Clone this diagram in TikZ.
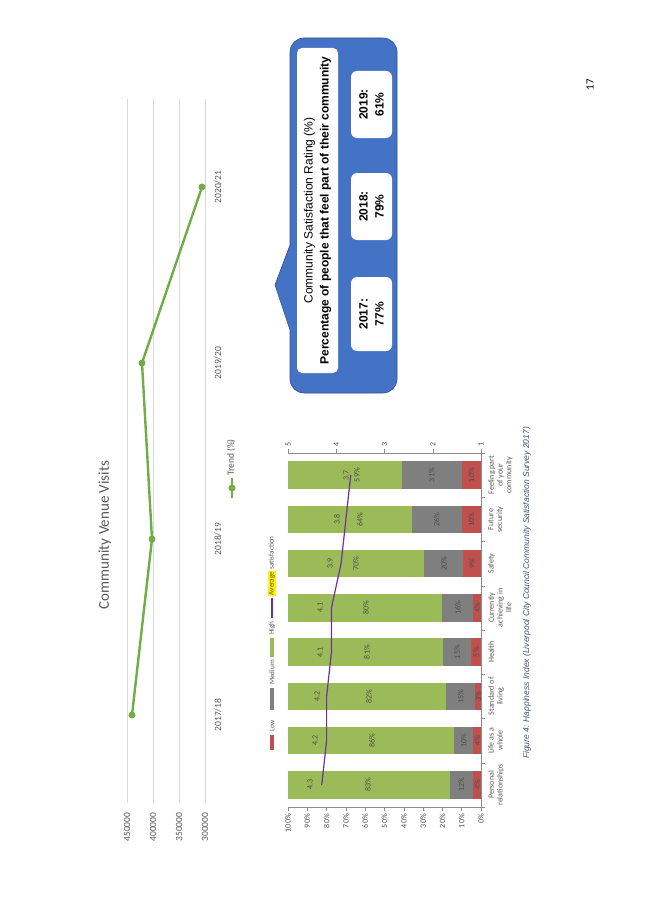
\documentclass[tikz,border=0pt]{standalone}
\usepackage{fontspec}
\setmainfont{Carlito}
\newfontfamily\arialfont{Liberation Sans}
\usepackage{tikz}
\usetikzlibrary{positioning}
\definecolor{trendgreen}{HTML}{70AD47}
\definecolor{lowred}{HTML}{C0504D}
\definecolor{medgray}{HTML}{7F7F7F}
\definecolor{highgreen}{HTML}{9BBB59}
\definecolor{avgpurple}{HTML}{7030A0}
\definecolor{calloutblue}{HTML}{4472C4}
\definecolor{calloutedge}{HTML}{2F528F}
\definecolor{axisgray}{HTML}{595959}
\definecolor{gridgray}{HTML}{D9D9D9}
\definecolor{captionblue}{HTML}{44546A}
\tikzstyle{gridline} = [gridgray, line width=0.8pt]
\tikzstyle{axislabel} = [rotate=90, text=axisgray, inner sep=0pt,
    font=\fontsize{9.5}{11}\selectfont]
\tikzstyle{smalllabel} = [rotate=90, text=black!70, inner sep=0pt,
    font=\fontsize{8}{9}\selectfont]
\tikzstyle{catlabel} = [smalllabel, text=axisgray, align=center, anchor=north,
    font=\fontsize{8}{8.8}\selectfont]
\tikzstyle{keylabel} = [smalllabel, anchor=west, text=axisgray,
    font=\fontsize{7.2}{8}\selectfont]
\tikzstyle{trendline} = [trendgreen, line width=2.4pt]
\tikzstyle{callout} = [fill=calloutblue, draw=calloutedge, line width=0.6pt]
\tikzstyle{whitebox} = [fill=white, rounded corners=6pt, rotate=90, align=center,
    inner sep=0pt, font=\arialfont\fontsize{12}{16}\selectfont]
\tikzstyle{axisline} = [black!45, line width=0.5pt]

\begin{document}
\begin{tikzpicture}[x=1pt, y=-1pt]
  \useasboundingbox (0,0) rectangle (653,923);

  % community venue visits
  \foreach \g/\v in {127/450000,153/400000,179/350000,205/300000} {
    \draw[gridline] (\g,99) -- (\g,803);
    \node[axislabel] (tick\v) at (\g,827) {\v};
  }
  \node[rotate=90, text=axisgray, font=\fontsize{15}{18}\selectfont] (title) at (105,535) {Community Venue Visits};
  \coordinate (v1) at (132,715);
  \coordinate (v2) at (152,539);
  \coordinate (v3) at (142,363);
  \coordinate (v4) at (202,187);
  \draw[trendline] (v1) -- (v2) -- (v3) -- (v4);
  \foreach \p in {v1,v2,v3,v4}
    \fill[trendgreen] (\p) circle (3.5pt);
  \node[axislabel] (yr1) at (218,715) {2017/18};
  \node[axislabel] (yr2) at (218,539) {2018/19};
  \node[axislabel] (yr3) at (218,363) {2019/20};
  \node[axislabel] (yr4) at (218,187) {2020/21};
  \coordinate (keya) at (232,498);
  \coordinate (keyb) at (232,478);
  \draw[trendline] (keya) -- (keyb);
  \fill[trendgreen] (232,488) circle (3.5pt);
  \node[axislabel, anchor=west] (trendkey) at (231,476) {Trend (\%)};

  % callout
  \filldraw[callout] (290,245) -- (290,200) [rounded corners=14pt] -- (290,38) -- (397,38)
    -- (397,393) -- (290,393) -- (290,360) [sharp corners] -- (290,330) -- (275,285) -- cycle;
  \node[whitebox, minimum width=325pt, minimum height=41pt, rounded corners=5pt] (header) at (317.5,210.5)
    {Community Satisfaction Rating (\%)\\\textbf{Percentage of people that feel part of their community}};
  \node[whitebox, minimum width=74pt, minimum height=41pt] (y2017) at (371.5,314) {\textbf{2017:}\\\textbf{77\%}};
  \node[whitebox, minimum width=67pt, minimum height=41pt] (y2018) at (371.5,206.5) {\textbf{2018:}\\\textbf{79\%}};
  \node[whitebox, minimum width=67pt, minimum height=41pt] (y2019) at (371.5,104.5) {\textbf{2019:}\\\textbf{61\%}};

  % happiness index bars
  \draw[axisline] (481,807) -- (288,807);
  \draw[axisline] (481,453) -- (288,453);
  \draw[axisline] (481,453) -- (481,807);
  \foreach \k in {0,...,10} {
    \pgfmathsetmacro{\tx}{481-19.3*\k}
    \pgfmathtruncatemacro{\pc}{10*\k}
    \draw[axisline] (\tx,807) -- (\tx,811);
    \node[smalllabel, anchor=east] (pct\k) at (\tx,814) {\pc\%};
  }
  \foreach \k in {1,...,5} {
    \pgfmathsetmacro{\tx}{481-48.25*(\k-1)}
    \draw[axisline] (\tx,453) -- (\tx,449);
    \node[smalllabel] (scale\k) at (\tx,444) {\k};
  }
  \foreach \k in {0,...,8}
    \draw[axisline] (481,453+44.25*\k) -- (485,453+44.25*\k);
  \foreach \i/\lo/\me/\hi/\hx/\av/\ax/\cat in {
      1/4/12/83/368/4.3/310/{Personal\\relationships},
      2/4/10/86/372/4.2/315/{Life as a\\whole},
      3/3/15/82/369/4.2/317/{Standard of\\living},
      4/5/15/81/367/4.1/320/{Health},
      5/4/16/80/366/4.1/320/{Currently\\achieving in\\life},
      6/9/20/70/356/3.9/330/{Safety},
      7/10/26/64/360/3.8/337/{Future\\security},
      8/10/31/59/357/3.7/346/{Feeling part\\of your\\community}} {
    \pgfmathsetmacro{\yc}{453+44.25*(8.5-\i)}
    \pgfmathsetmacro{\tot}{\lo+\me+\hi}
    \pgfmathsetmacro{\xa}{481-193*\lo/\tot}
    \pgfmathsetmacro{\xb}{481-193*(\lo+\me)/\tot}
    \pgfmathsetmacro{\xv}{481-48.25*(\av-1)}
    \fill[lowred] (481,\yc-13.8) rectangle (\xa,\yc+13.8);
    \fill[medgray] (\xa,\yc-13.8) rectangle (\xb,\yc+13.8);
    \fill[highgreen] (\xb,\yc-13.8) rectangle (288,\yc+13.8);
    \node[smalllabel] (low\i) at ({(481+\xa)/2},\yc) {\lo\%};
    \node[smalllabel] (med\i) at ({(\xa+\xb)/2},\yc) {\me\%};
    \node[smalllabel] (high\i) at (\hx,\yc) {\hi\%};
    \coordinate (avg\i) at (\xv,\yc);
    \node[smalllabel] (avglabel\i) at (\ax,\yc) {\av};
    \node[catlabel] (cat\i) at (488,\yc) {\cat};
  }
  \draw[avgpurple, line width=1.2pt] (avg1) -- (avg2) -- (avg3) -- (avg4) -- (avg5) -- (avg6) -- (avg7) -- (avg8);

  % legend
  \fill[lowred] (270,735) rectangle (274,750);
  \node[keylabel] (lowkey) at (272,732) {Low};
  \fill[medgray] (270,688) rectangle (274,710);
  \node[keylabel] (medkey) at (272,685) {Medium};
  \fill[highgreen] (270,638) rectangle (274,657);
  \node[keylabel] (highkey) at (272,635) {High};
  \coordinate (avgkeya) at (272,618);
  \coordinate (avgkeyb) at (272,598);
  \draw[avgpurple, line width=1.2pt] (avgkeya) -- (avgkeyb);
  \node[keylabel] (avgkey) at (272,596)
    {{\setlength{\fboxsep}{0.6pt}\colorbox{yellow}{Average}} satisfaction};

  % caption and page number
  \node[rotate=90, text=captionblue, font=\arialfont\itshape\fontsize{8.5}{10}\selectfont] (caption) at (527,593)
    {Figure 4: Happiness Index (Liverpool City Council Community Satisfaction Survey 2017)};
  \node[rotate=90, font=\fontsize{11}{13}\selectfont] (page) at (590,85) {17};
\end{tikzpicture}
\end{document}
